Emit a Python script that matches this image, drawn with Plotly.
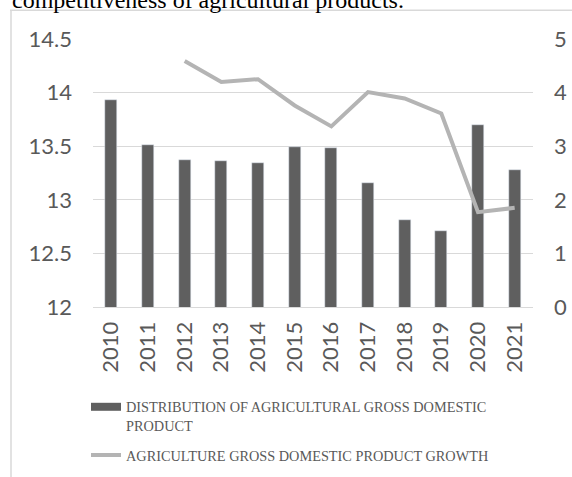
import plotly.graph_objects as go

years = ["2010", "2011", "2012", "2013", "2014", "2015", "2016", "2017", "2018", "2019", "2020", "2021"]
distribution = [13.93, 13.51, 13.37, 13.36, 13.34, 13.49, 13.48, 13.16, 12.81, 12.71, 13.70, 13.28]
growth = [None, None, 4.59, 4.20, 4.25, 3.76, 3.37, 4.01, 3.89, 3.61, 1.77, 1.85]

bar_name = "DISTRIBUTION OF AGRICULTURAL GROSS DOMESTIC<br>PRODUCT"
line_name = "AGRICULTURE GROSS DOMESTIC PRODUCT GROWTH"
caption = "competitiveness of agricultural products."

BAR_COLOR = "#5f5f5f"
LINE_COLOR = "#b4b4b4"
TICK_COLOR = "#595959"
GRID_COLOR = "#d9d9d9"

W, H = 572, 477
L, R, T, B = 93, 39, 38.7, 170.3
PW, PH = W - L - R, H - T - B

def px(X):
    return (X - L) / PW

def py(Y):
    return (T + PH - Y) / PH

fig = go.Figure()
fig.add_trace(go.Bar(x=years, y=distribution, marker_color=BAR_COLOR, width=0.32,
                     showlegend=False, yaxis="y"))
# legend proxy for the bar series (wide flat swatch as in the original)
fig.add_trace(go.Scatter(x=[None], y=[None], mode="lines", name=bar_name, legendgroup="a",
                         line=dict(color=BAR_COLOR, width=8), yaxis="y"))
fig.add_trace(go.Scatter(x=years, y=growth, mode="lines", name=line_name, legendgroup="b",
                         line=dict(color=LINE_COLOR, width=4), yaxis="y2"))

tickfont = dict(family="Lato, 'Open Sans', sans-serif", size=22, color=TICK_COLOR)

fig.update_layout(
    width=W, height=H,
    margin=dict(l=L, r=R, t=T, b=B, autoexpand=False),
    plot_bgcolor="white", paper_bgcolor="white",
    bargap=0,
    xaxis=dict(type="category", tickangle=-90, tickfont=tickfont, showgrid=False,
               showline=True, linecolor=GRID_COLOR, linewidth=1, ticks="",
               ticklabelstandoff=5, automargin=False),
    yaxis=dict(range=[12, 14.5], dtick=0.5, tickfont=tickfont, showgrid=True,
               gridcolor=GRID_COLOR, gridwidth=1, zeroline=False, ticks="",
               ticklabelstandoff=20, tickformat="~g", automargin=False),
    yaxis2=dict(range=[0, 5], dtick=1, overlaying="y", side="right", tickfont=tickfont,
                showgrid=False, zeroline=False, ticks="", ticklabelstandoff=20,
                automargin=False),
    legend=dict(xref="container", yref="container", x=86 / W, xanchor="left",
                y=1 - 391 / H, yanchor="top", valign="top",
                font=dict(family="'Liberation Serif', 'Times New Roman', serif", size=14.3,
                          color=TICK_COLOR),
                bgcolor="rgba(0,0,0,0)", tracegroupgap=8, traceorder="grouped"),
    shapes=[
        dict(type="line", xref="paper", yref="paper", x0=px(10), x1=px(572), y0=py(10), y1=py(10),
             line=dict(color=GRID_COLOR, width=1.5)),
        dict(type="line", xref="paper", yref="paper", x0=px(11), x1=px(11), y0=py(10), y1=py(477),
             line=dict(color=GRID_COLOR, width=1.5)),
    ],
    annotations=[
        dict(text=caption, xref="paper", yref="paper",
             x=px(10), xanchor="left", y=py(15), yanchor="bottom", showarrow=False,
             font=dict(family="'Liberation Serif', 'Times New Roman', serif", size=24, color="black")),
    ],
)

fig.write_html("out.html",
               config={"responsive": False, "displayModeBar": False},
               post_script=("document.documentElement.style.overflow='hidden';"
                            "document.body.style.margin='0';"
                            "document.body.style.overflow='hidden';"))
